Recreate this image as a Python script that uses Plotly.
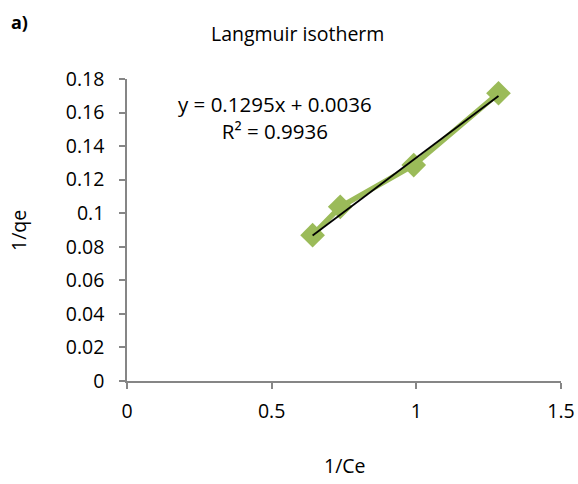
import plotly.graph_objects as go

inv_ce = [0.6415, 0.737, 0.991, 1.284]
inv_qe = [0.0869, 0.1038, 0.1287, 0.1715]
slope = 0.1295
intercept = 0.0036
x_ticks = [0, 0.5, 1, 1.5]
y_ticks = [0, 0.02, 0.04, 0.06, 0.08, 0.1, 0.12, 0.14, 0.16, 0.18]

FONT = "Open Sans"
FS = 19.5
green = "#9BBB59"

fit_x = [min(inv_ce), max(inv_ce)]
fit_y = [slope * v + intercept for v in fit_x]

fig = go.Figure()
fig.add_trace(go.Scatter(x=inv_ce, y=inv_qe, mode="lines+markers",
                         line=dict(color=green, width=5.5),
                         marker=dict(symbol="diamond", size=19, color=green),
                         showlegend=False, cliponaxis=False))
fig.add_trace(go.Scatter(x=fit_x, y=fit_y, mode="lines",
                         line=dict(color="black", width=1.8),
                         showlegend=False))

axis_common = dict(showgrid=False, zeroline=False, showline=True,
                   linecolor="#868686", linewidth=1.5, ticks="outside",
                   tickcolor="#868686", ticklen=6, tickwidth=1.5,
                   automargin=False,
                   tickfont=dict(family=FONT, size=FS, color="black"))

fig.update_xaxes(range=[0, 1.5], tickvals=x_ticks,
                 ticktext=[f"{v:g}" for v in x_ticks],
                 ticklabelstandoff=6, **axis_common)
fig.update_yaxes(range=[0, 0.18], tickvals=y_ticks,
                 ticktext=[f"{v:g}" for v in y_ticks],
                 ticklabelstandoff=11, **axis_common)

W, H = 578, 484
l, r, t, b = 127, 17, 79, 103
pw, ph = W - l - r, H - t - b

def ann(text, px, py, size=FS, angle=0):
    return dict(text=text, x=(px - l) / pw, y=(H - b - py) / ph,
                xref="paper", yref="paper", xanchor="center", yanchor="middle",
                showarrow=False, textangle=angle, align="center",
                font=dict(family=FONT, size=size, color="black"))

fig.update_layout(
    width=W, height=H,
    margin=dict(l=l, r=r, t=t, b=b),
    plot_bgcolor="white", paper_bgcolor="white",
    annotations=[
        ann("Langmuir isotherm", 297, 33),
        ann("<b>a)</b>", 19, 22, size=18),
        ann("y = 0.1295x + 0.0036<br>R² = 0.9936", 275, 117, size=20.5),
        ann("1/qe", 18, 230, angle=-90),
        ann("1/Ce", 345, 465),
    ],
)

fig.write_html("out.html")
